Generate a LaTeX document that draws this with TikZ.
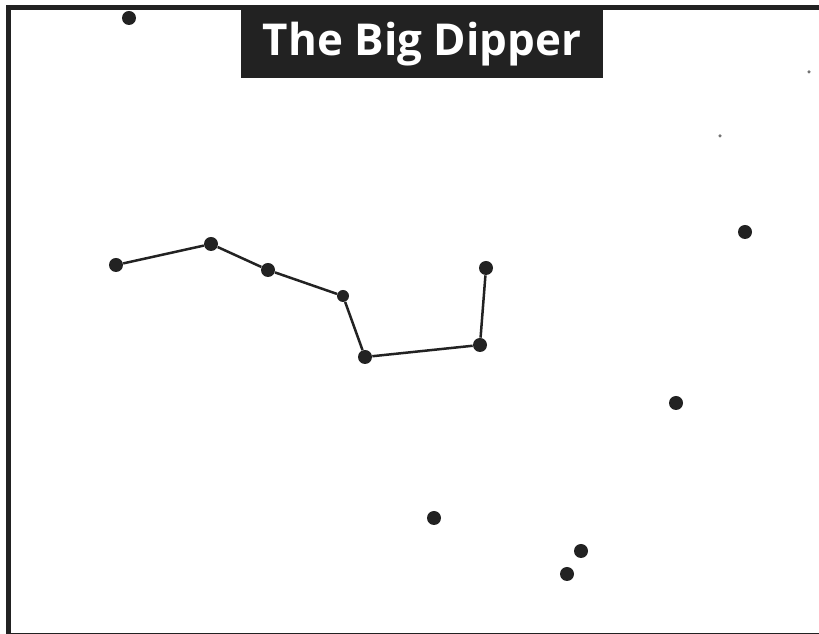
\documentclass[tikz,border=0pt]{standalone}
\usepackage{fontspec}
\setsansfont{Open Sans}
\usepackage{tikz}
\usetikzlibrary{positioning}
\definecolor{ink}{HTML}{222222}

\begin{document}
\begin{tikzpicture}[x=0.02cm,y=-0.02cm,
  bright/.style={circle,fill=ink,inner sep=0pt,minimum size=14*0.02cm},
  dim/.style={bright,minimum size=12*0.02cm},
  faint/.style={circle,fill=black!55,inner sep=0pt,minimum size=3.5*0.02cm},
  link/.style={draw=ink,line width=2.5*0.02cm},
  ttl/.style={fill=ink,text=white,font=\sffamily\bfseries\fontsize{25}{30}\selectfont,
    minimum width=362*0.02cm,minimum height=68*0.02cm,inner sep=0pt}]

  \useasboundingbox (0,0) rectangle (819,634);
  % frame, cut off at the right edge
  \draw[ink,line width=5*0.02cm] (8.5,7.5) rectangle (840,636);

  \node[ttl] (title) at (422,44) {The Big Dipper};

  % the seven stars of the dipper
  \foreach \id/\x/\y in {a/116/265, b/211/244, c/268/270, e/365/357, f/480/345, g/486/268}{
    \node[bright] (\id) at (\x,\y) {};
  }
  \node[dim] (d) at (343,296) {};
  \draw[link] (a) -- (b) -- (c) -- (d) -- (e) -- (f) -- (g);

  % other stars in the field
  \foreach \id/\x/\y in {o1/129/18, o2/745/232, o3/676/403, o4/434/518, o5/581/551, o6/567/574}{
    \node[bright] (\id) at (\x,\y) {};
  }
  \node[faint] (p1) at (809,72) {};
  \node[faint] (p2) at (720,136) {};
\end{tikzpicture}
\end{document}
